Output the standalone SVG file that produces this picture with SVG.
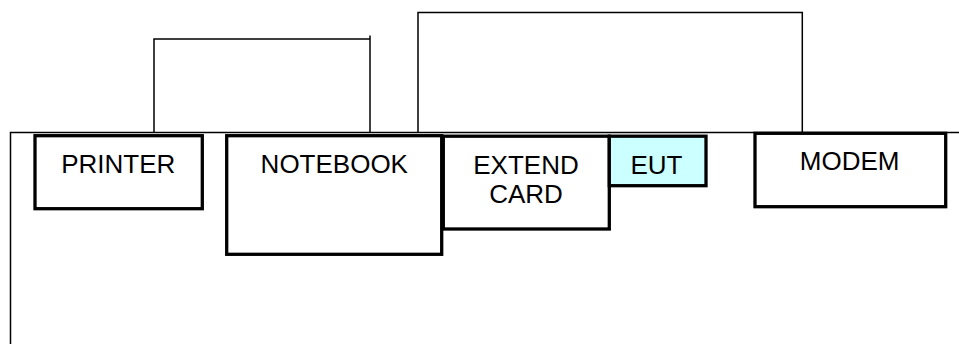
<svg xmlns="http://www.w3.org/2000/svg" width="959" height="344" viewBox="0 0 959 344">
<style>
.box{fill:#ffffff;stroke:#000000;stroke-width:3.3}
.eut{fill:#ccffff;stroke:#000000;stroke-width:3.3}
.wire{fill:none;stroke:#000000;stroke-width:1.5}
.lbl{font-family:"Liberation Sans",Arial,sans-serif;font-size:26px;fill:#000000;text-anchor:middle}
</style>
<rect x="0" y="0" width="959" height="344" fill="#ffffff"/>
<g id="table">
<path class="wire" d="M10.5,344 V132.5 H959"/>
</g>
<g id="connectors">
<path class="wire" d="M154,132.5 V39 H370"/>
<path class="wire" d="M370,35.5 V132.5"/>
<path class="wire" d="M418,132.5 V12.5 H802.3 V132.5"/>
</g>
<g id="printer">
<rect class="box" x="35" y="135.7" width="167.3" height="73"/>
<text class="lbl" x="118.2" y="173.3">PRINTER</text>
</g>
<g id="notebook">
<rect class="box" x="226.7" y="135.7" width="215" height="118.6"/>
<text class="lbl" x="334.3" y="172.7">NOTEBOOK</text>
</g>
<g id="extend-card">
<rect class="box" x="443.3" y="136.2" width="166" height="92.8"/>
<text class="lbl" x="526" y="174">EXTEND</text>
<text class="lbl" x="526" y="203">CARD</text>
</g>
<g id="eut">
<rect class="eut" x="609.3" y="136.2" width="96.7" height="49.5"/>
<text class="lbl" x="656.5" y="174">EUT</text>
</g>
<g id="modem">
<rect class="box" x="755" y="133.3" width="190.7" height="73.4"/>
<text class="lbl" x="849.7" y="170">MODEM</text>
</g>
</svg>
